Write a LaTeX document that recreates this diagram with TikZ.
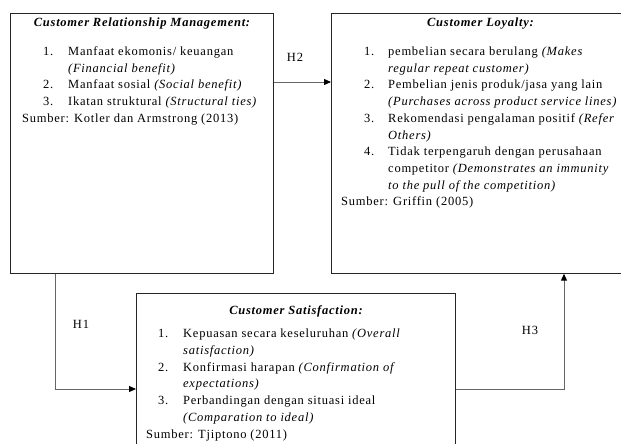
\documentclass[tikz,border=0pt]{standalone}
\usepackage{fontspec}
\setmainfont[LetterSpace=6]{Liberation Serif}
\usetikzlibrary{arrows.meta,positioning}

\newcommand{\itemno}[2]{\makebox[#1][l]{#2}}

\begin{document}
\begin{tikzpicture}[x=1pt, y=-1pt,
  every node/.style = {inner sep=0pt},
  box/.style = {draw=black!85, line width=1pt, anchor=north west},
  title/.style = {font=\fontsize{12.5}{14}\selectfont\bfseries\itshape},
  list/.style = {anchor=north west, align=left, font=\fontsize{12.5}{16.7}\selectfont},
  link/.style = {draw=black!60, line width=1pt, -{Triangle[length=7pt,width=6pt,color=black]}},
  hyp/.style = {font=\fontsize{12.5}{14}\selectfont}
  ]
  \useasboundingbox (0,0) rectangle (621,444);

  % boxes
  \node[box, minimum width=263pt, minimum height=260pt] (crm) at (10,12.7) {};
  \node[box, minimum width=298pt, minimum height=260pt] (loyal) at (331,12.7) {};
  \node[box, minimum width=319pt, minimum height=170pt] (sat) at (136,293) {};

  % titles
  \node[title] (crmtitle) at ([yshift=-11pt]crm.north) {Customer Relationship Management:};
  \node[title] (loyaltitle) at ([yshift=-11pt]loyal.north) {Customer Loyalty:};
  \node[title] (sattitle) at ([yshift=-18pt]sat.north) {Customer Satisfaction:};

  % lists
  \node[list] (crmlist) at ([xshift=12pt, yshift=-31pt]crm.north west) {%
    \begin{tabular}{@{\hspace{21pt}}l@{}l}
      \itemno{25pt}{1.} & Manfaat ekomonis/ keuangan\\
       & \textit{(Financial benefit)}\\
      \itemno{25pt}{2.} & Manfaat sosial \textit{(Social benefit)}\\
      \itemno{25pt}{3.} & Ikatan struktural \textit{(Structural ties)}\\
      \multicolumn{2}{@{}l}{Sumber: Kotler dan Armstrong (2013)}
    \end{tabular}};
  \node[list] (loyallist) at ([xshift=10pt, yshift=-31pt]loyal.north west) {%
    \begin{tabular}{@{\hspace{23pt}}l@{}l}
      \itemno{24pt}{1.} & pembelian secara berulang \textit{(Makes}\\
       & \textit{regular repeat customer)}\\
      \itemno{24pt}{2.} & Pembelian jenis produk/jasa yang lain\\
       & \textit{(Purchases across product service lines)}\\
      \itemno{24pt}{3.} & Rekomendasi pengalaman positif \textit{(Refer}\\
       & \textit{Others)}\\
      \itemno{24pt}{4.} & Tidak terpengaruh dengan perusahaan\\
       & competitor \textit{(Demonstrates an immunity}\\
       & \textit{to the pull of the competition)}\\
      \multicolumn{2}{@{}l}{Sumber: Griffin (2005)}
    \end{tabular}};
  \node[list] (satlist) at ([xshift=10pt, yshift=-33pt]sat.north west) {%
    \begin{tabular}{@{\hspace{12pt}}l@{}l}
      \itemno{25pt}{1.} & Kepuasan secara keseluruhan \textit{(Overall}\\
       & \textit{satisfaction)}\\
      \itemno{25pt}{2.} & Konfirmasi harapan \textit{(Confirmation of}\\
       & \textit{expectations)}\\
      \itemno{25pt}{3.} & Perbandingan dengan situasi ideal\\
       & \textit{(Comparation to ideal)}\\
      \multicolumn{2}{@{}l}{Sumber: Tjiptono (2011)}
    \end{tabular}};

  % connectors
  \coordinate (h2) at (0,82);
  \coordinate (h1) at (55,389);
  \coordinate (h3) at (564,389);
  \draw[link] (crm.east |- h2) -- (loyal.west |- h2);
  \draw[link] (crm.south -| h1) -- (h1) -- (sat.west |- h1);
  \draw[link] (sat.east |- h3) -- (h3) -- (loyal.south -| h3);

  % labels
  \node[hyp] (h2label) at (295,57) {H2};
  \node[hyp] (h1label) at (81,324) {H1};
  \node[hyp] (h3label) at (530,330) {H3};
\end{tikzpicture}
\end{document}
